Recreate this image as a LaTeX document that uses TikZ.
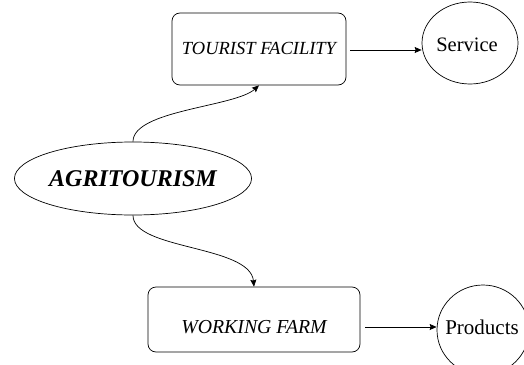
\documentclass[tikz,border=0pt]{standalone}
\usepackage{fontspec}
\setmainfont{Liberation Serif}
\usetikzlibrary{arrows.meta,shapes.geometric}
\begin{document}
\begin{tikzpicture}[x=1pt,y=-1pt,
  line width=0.7pt,
  boxnode/.style={draw, rounded corners=8pt, inner sep=0pt},
  ovalnode/.style={draw, ellipse, inner sep=0pt},
  arr/.style={-{Stealth[length=7pt,width=6pt,inset=1pt]}},
  boxtext/.style={font=\fontsize{18.5}{20}\selectfont\itshape, inner sep=0pt}]
\useasboundingbox (0,0) rectangle (524,364);
\clip (0,0) rectangle (524,364);
% boxes
\node[boxnode, minimum width=174pt, minimum height=72pt] (tour) at (259,49) {};
\node[boxtext] (tourtxt) at (259,48) {TOURIST FACILITY};
\node[boxnode, minimum width=212pt, minimum height=65pt] (farm) at (254,319.5) {};
\node[boxtext, font=\fontsize{19.8}{22}\selectfont\itshape] (farmtxt) at (254,327) {WORKING FARM};
% ellipses
\node[ovalnode, minimum width=237pt, minimum height=73pt] (agri) at (133,178.5)
  {\fontsize{24}{28}\selectfont\bfseries\itshape AGRITOURISM};
\node[ovalnode, minimum width=96pt, minimum height=82pt] (serv) at (470,43) {};
\node[inner sep=0pt, font=\fontsize{20.5}{24}\selectfont] (servtxt) at (467,45) {Service};
\node[ovalnode, minimum width=92pt, minimum height=90pt] (prod) at (483,330) {};
\node[inner sep=0pt, font=\fontsize{21}{24}\selectfont] (prodtxt) at (482,327) {Products};
% connectors
\draw[arr] (tour.east |- tourtxt) ++(4,2) coordinate (a1) -- (serv.west |- a1);
\draw[arr] (farm.east |- farmtxt) ++(5,0) coordinate (a2) -- (prod.west |- a2);
\draw[arr] (agri.north) .. controls (133,110) and (235,107) .. (tour.south);
\draw[arr] (agri.south) .. controls (133,250) and (250,245) .. (farm.north);
\end{tikzpicture}
\end{document}
